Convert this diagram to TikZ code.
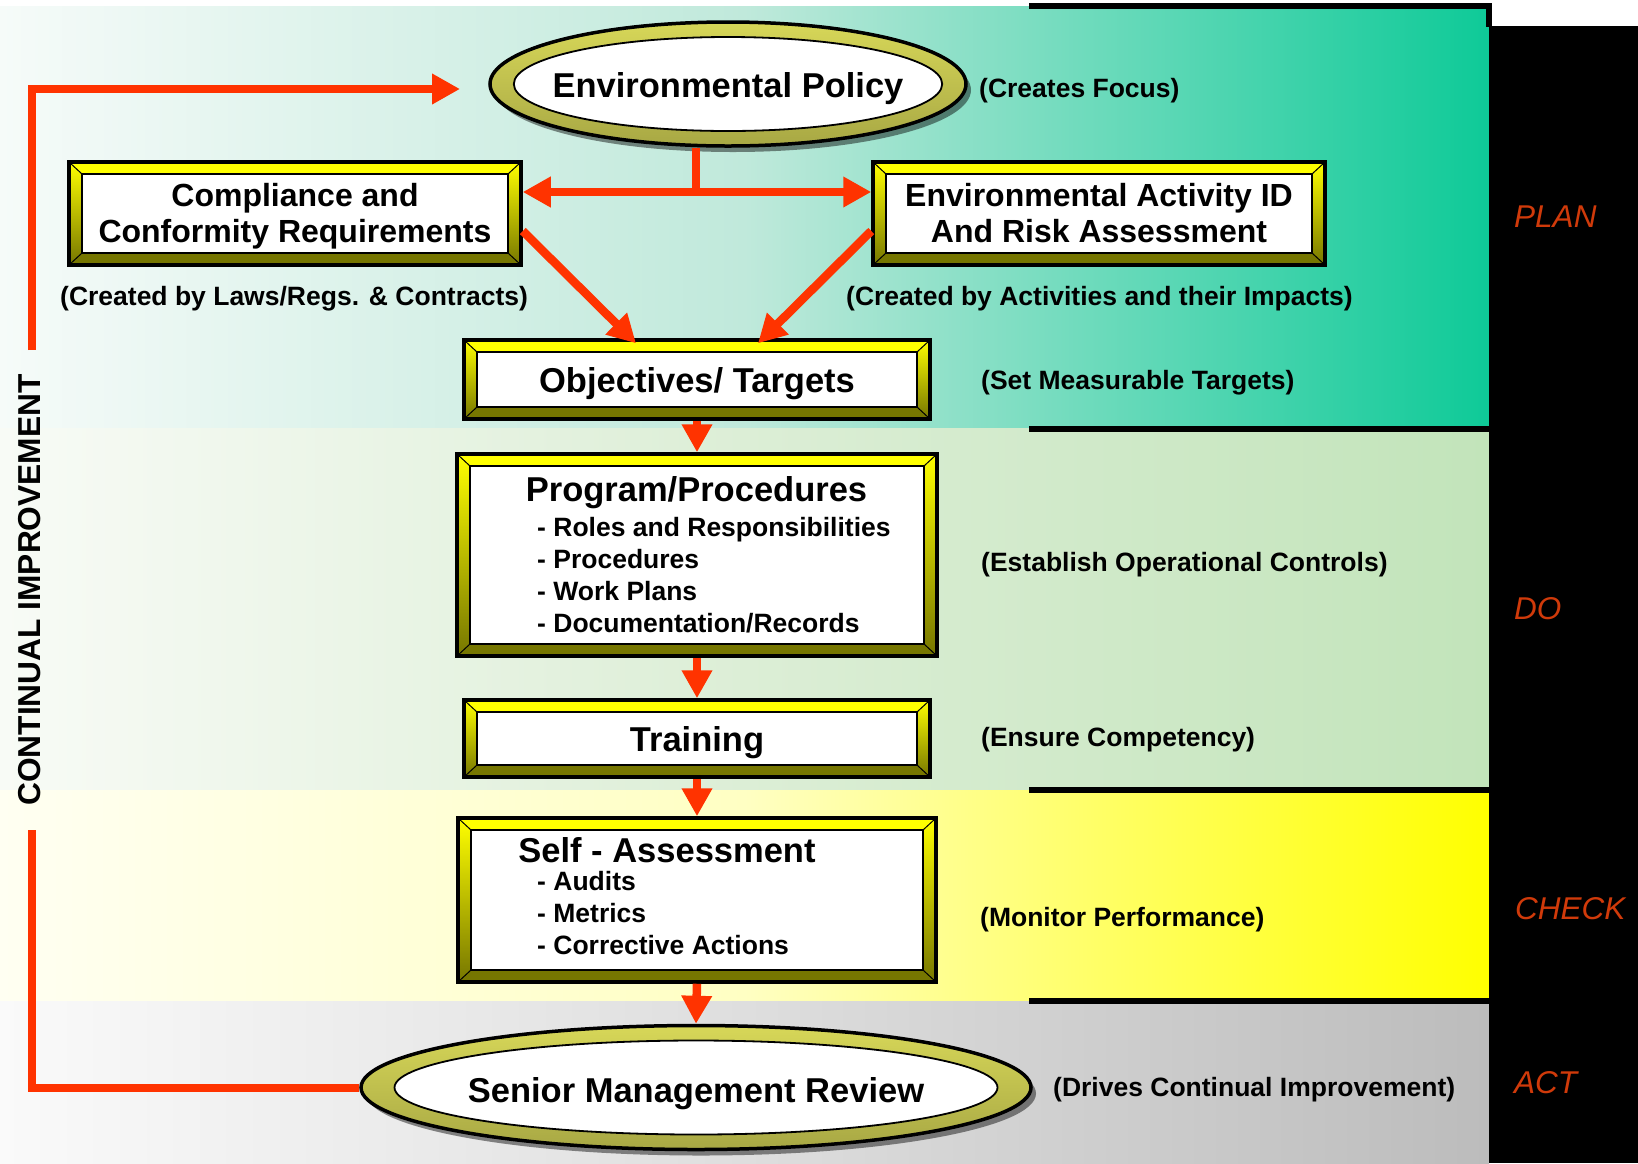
\documentclass[tikz,border=0pt]{standalone}
\usepackage{fontspec}
\setmainfont{Liberation Sans}
\usetikzlibrary{arrows.meta,calc,shapes.geometric}

\definecolor{flowc}{RGB}{255,51,0}
\definecolor{bevtop}{RGB}{255,255,0}
\definecolor{bevbot}{RGB}{118,118,0}
\definecolor{ringtop}{RGB}{215,215,88}
\definecolor{ringbot}{RGB}{168,168,68}
\definecolor{phasec}{RGB}{208,58,10}
\definecolor{planL}{RGB}{246,251,249}
\definecolor{planM}{RGB}{192,233,219}
\definecolor{planR}{RGB}{14,202,152}
\definecolor{doL}{RGB}{248,251,246}
\definecolor{doM}{RGB}{220,238,214}
\definecolor{doR}{RGB}{194,228,186}
\definecolor{chkL}{RGB}{255,255,242}
\definecolor{chkM}{RGB}{255,255,195}
\definecolor{chkR}{RGB}{255,255,0}
\definecolor{actL}{RGB}{250,250,250}
\definecolor{actM}{RGB}{222,222,222}
\definecolor{actR}{RGB}{188,188,188}

\newcommand\fntBig{\bfseries\fontsize{34.5}{38}\selectfont}
\newcommand\fntMid{\bfseries\fontsize{32}{36}\selectfont}
\newcommand\fntSmall{\bfseries\fontsize{26.5}{30}\selectfont}
\newcommand\fntCI{\bfseries\fontsize{31.7}{34}\selectfont}
\newcommand\fntPhase{\itshape\fontsize{31.5}{34}\selectfont}

\tikzset{
  bevelbox/.style={rectangle, draw=black, line width=3.5pt, inner sep=0pt, align=center,
    path picture={
      \coordinate (bbnw) at (path picture bounding box.north west);
      \coordinate (bbne) at (path picture bounding box.north east);
      \coordinate (bbsw) at (path picture bounding box.south west);
      \coordinate (bbse) at (path picture bounding box.south east);
      \fill[top color=bevtop, bottom color=bevbot] (bbnw) rectangle (bbse);
      \fill[bevtop] (bbnw) -- (bbne) -- ($(bbne)+(-13pt,-12pt)$) -- ($(bbnw)+(13pt,-12pt)$) -- cycle;
      \fill[bevbot] (bbsw) -- (bbse) -- ($(bbse)+(-13pt,12pt)$) -- ($(bbsw)+(13pt,12pt)$) -- cycle;
      \draw[black, line width=1pt] (bbnw) -- ($(bbnw)+(13pt,-12pt)$)
        (bbne) -- ($(bbne)+(-13pt,-12pt)$)
        (bbsw) -- ($(bbsw)+(13pt,12pt)$)
        (bbse) -- ($(bbse)+(-13pt,12pt)$);
      \draw[black, line width=1.6pt, fill=white] ($(bbnw)+(13pt,-12pt)$) rectangle ($(bbse)+(-13pt,12pt)$);
    }},
  ringnode/.style 2 args={ellipse, inner sep=0pt, minimum width=#1, minimum height=#2,
    text height=33pt, text depth=7pt, font=\fntBig,
    preaction={fill=black, fill opacity=0.45, transform canvas={shift={(5pt,-6pt)}}},
    top color=ringtop, bottom color=ringbot, draw=black, line width=3.5pt,
    path picture={\draw[black, line width=1.8pt, fill=white] (path picture bounding box.center)
       ellipse [x radius={0.45*#1}, y radius={0.5*#2-15pt}];}},
  redline/.style={draw=flowc, line width=8pt},
  flowarrow/.style={draw=flowc, line width=8.5pt, -{Triangle[width=29pt,length=28pt]}},
  annot/.style={font=\fntSmall, anchor=west, inner sep=0pt},
  phaselbl/.style={font=\fntPhase, text=phasec, anchor=west, inner sep=0pt},
  listitem/.style={font=\fntSmall, anchor=base west, inner sep=0pt},
  boxtitle/.style={font=\fntBig, anchor=base, inner sep=0pt}
}

\begin{document}
\begin{tikzpicture}[x=1pt,y=-1pt]
\useasboundingbox (0,0) rectangle (1638,1163);
\fill[white] (0,0) rectangle (1638,1163);

% phase bands
\fill[left color=planL, right color=planR, middle color=planM] (0,6) rectangle (1489,428);
\fill[left color=doL, right color=doR, middle color=doM] (0,428) rectangle (1489,790);
\fill[left color=chkL, right color=chkR, middle color=chkM] (0,790) rectangle (1489,1001);
\fill[left color=actL, right color=actR, middle color=actM] (0,1001) rectangle (1489,1163);

% black frame pieces and right band
\fill[black] (1029,3) rectangle (1492,9);
\fill[black] (1486,3) rectangle (1492,27);
\fill[black] (1489,26) rectangle (1638,1163);
\fill[black] (1029,426) rectangle (1489,432);
\fill[black] (1029,787) rectangle (1489,793);
\fill[black] (1029,998) rectangle (1489,1004);

% phase labels
\node[phaselbl] (plan) at (1514,217) {PLAN};
\node[phaselbl] (do) at (1514,609) {DO};
\node[phaselbl] (check) at (1515,909) {CHECK};
\node[phaselbl] (act) at (1514,1083) {ACT};

% ellipses
\node[ringnode={476pt}{124pt}] (pol) at (728,84) {\makebox[0pt]{Environmental Policy}};
\node[ringnode={670pt}{124pt}, text height=37pt] (sen) at (696,1087.5) {\makebox[0pt]{Senior Management Review}};

% boxes
\node[bevelbox, minimum width=452pt, minimum height=103pt, font=\fntMid] (comp) at (295,213.5)
  {\rule{0pt}{29.5pt}Compliance and\\Conformity Requirements};
\node[bevelbox, minimum width=452pt, minimum height=103pt, font=\fntMid] (risk) at (1099,213.5)
  {Environmental Activity ID\\And Risk Assessment};
\node[bevelbox, minimum width=466pt, minimum height=79pt, font=\fntBig, text height=32pt, text depth=7pt] (obj) at (697,379.5)
  {Objectives/ Targets};
\node[bevelbox, minimum width=480pt, minimum height=202pt] (prog) at (697,555) {};
\node[bevelbox, minimum width=466pt, minimum height=77pt, font=\fntBig, text height=32pt, text depth=7pt] (train) at (697,738.5)
  {Training};
\node[bevelbox, minimum width=478pt, minimum height=164pt] (self) at (697,900) {};

% box contents
\node[boxtitle] (progt) at (696.5,501) {Program/Procedures};
\node[listitem] (p1) at (537,536) {- Roles and Responsibilities};
\node[listitem] (p2) at (537,568.5) {- Procedures};
\node[listitem] (p3) at (537,600) {- Work Plans};
\node[listitem] (p4) at (537,632) {- Documentation/Records};
\node[boxtitle] (selft) at (667,862.5) {Self - Assessment};
\node[listitem] (s1) at (537,890.5) {- Audits};
\node[listitem] (s2) at (537,922) {- Metrics};
\node[listitem] (s3) at (537,954) {- Corrective Actions};

% annotations
\node[annot] (n1) at (979,91) {(Creates Focus)};
\node[annot] (n2) at (60,299) {(Created by Laws/Regs. \& Contracts)};
\node[annot] (n3) at (846,299) {(Created by Activities and their Impacts)};
\node[annot] (n4) at (981,383) {(Set Measurable Targets)};
\node[annot] (n5) at (981,565) {(Establish Operational Controls)};
\node[annot] (n6) at (981,740) {(Ensure Competency)};
\node[annot] (n7) at (980,920) {(Monitor Performance)};
\node[annot] (n8) at (1053,1090) {(Drives Continual Improvement)};

% continual improvement
\node[font=\fntCI, rotate=90, inner sep=0pt] (ci) at (29.5,590) {CONTINUAL IMPROVEMENT};

% connectors
\coordinate (junc) at (696,192);
\draw[redline] (junc |- pol.south) -- (junc);
\draw[flowarrow] (junc) -- (junc -| comp.east);
\draw[flowarrow] (junc) -- (junc -| risk.west);
\draw[flowarrow] ($(comp.east)+(0,17.5)$) -- ($(obj.north)+(-61,5)$);
\draw[flowarrow] ($(risk.west)+(0,17.5)$) -- ($(obj.north)+(61,5)$);
\draw[flowarrow] (obj.south) -- (prog.north);
\draw[flowarrow] (prog.south) -- (train.north);
\draw[flowarrow] (train.south) -- (self.north);
\draw[flowarrow] (self.south) -- (sen.north);

\coordinate (lpb) at (32,830);
\coordinate (lpt) at (32,350);
\coordinate (lptip) at (460,89);
\draw[redline] (sen.west) -| (lpb);
\draw[flowarrow] (lpt) |- (lptip);
\end{tikzpicture}
\end{document}
